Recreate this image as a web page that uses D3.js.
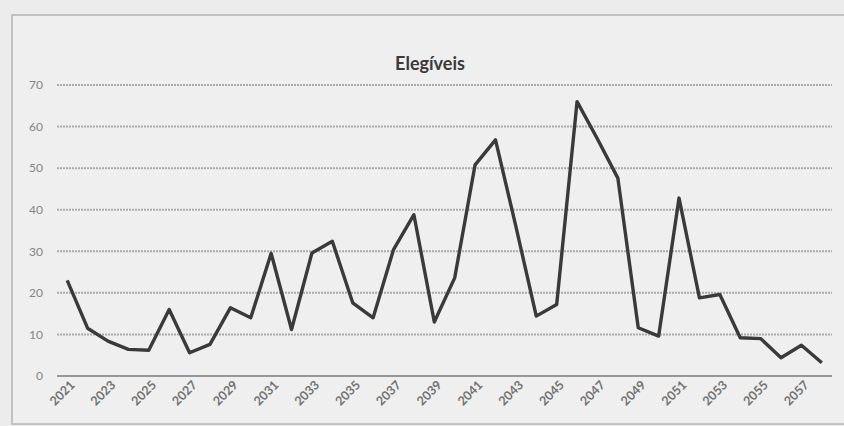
<!DOCTYPE html>
<html>
<head>
<meta charset="utf-8">
<script src="https://cdn.jsdelivr.net/npm/d3@7"></script>
<style>
  html, body { margin: 0; padding: 0; background: #ebebeb; }
  #chart { width: 844px; height: 426px; }
</style>
</head>
<body>
<div id="chart"></div>
<script>
const years = [2021, 2022, 2023, 2024, 2025, 2026, 2027, 2028, 2029, 2030,
  2031, 2032, 2033, 2034, 2035, 2036, 2037, 2038, 2039, 2040,
  2041, 2042, 2043, 2044, 2045, 2046, 2047, 2048, 2049, 2050,
  2051, 2052, 2053, 2054, 2055, 2056, 2057, 2058];
const elegiveis = [23, 11.5, 8.4, 6.4, 6.2, 16, 5.6, 7.6, 16.4, 14,
  29.5, 11.2, 29.6, 32.4, 17.6, 14, 30.4, 38.8, 13, 23.6,
  50.8, 56.8, 36, 14.4, 17.2, 66, 57, 47.6, 11.6, 9.6,
  42.8, 18.8, 19.6, 9.2, 9, 4.4, 7.4, 3.2];
const yTicks = [0, 10, 20, 30, 40, 50, 60, 70];
const xLabels = years.filter((d, i) => i % 2 === 0);
const title = "Elegíveis";

function drawChart() {
  const W = 844, H = 426;
  const margin = {top: 85, right: 12, bottom: 50, left: 57},
    width = W - margin.left - margin.right,
    height = H - margin.top - margin.bottom;

  const svg = d3.select('#chart')
    .append('svg')
    .attr('width', W)
    .attr('height', H);

  // scanned page background + chart frame
  svg.append('rect')
    .attr('width', W).attr('height', H)
    .style('fill', '#ececec');
  svg.append('rect')
    .attr('x', 12).attr('y', 15)
    .attr('width', W).attr('height', H - 17)
    .style('fill', '#efefef')
    .style('stroke', '#b4b4b4')
    .style('stroke-width', 1.5);

  svg.append('text')
    .attr('x', 430)
    .attr('y', 70)
    .attr('text-anchor', 'middle')
    .style('font-family', 'Lato, "Open Sans", sans-serif')
    .style('font-weight', 'bold')
    .style('font-size', '18px')
    .style('fill', '#3a3a3a')
    .text(title);

  const g = svg.append('g')
    .attr('transform', `translate(${margin.left}, ${margin.top})`);

  const xScale = d3.scalePoint()
    .domain(years)
    .range([0, width])
    .padding(0.5);

  const yScale = d3.scaleLinear()
    .domain([0, 70])
    .range([height, 0]);

  // gridlines
  g.append('g')
    .selectAll('line')
    .data(yTicks)
    .join('line')
    .attr('x1', 0)
    .attr('x2', width)
    .attr('y1', d => yScale(d))
    .attr('y2', d => yScale(d))
    .style('stroke', d => d === 0 ? '#979797' : '#aaaaaa')
    .style('stroke-width', 2)
    .style('stroke-dasharray', d => d === 0 ? null : '2 1');

  // y axis labels
  const yAxis = g.append('g')
    .call(d3.axisLeft(yScale).tickValues(yTicks).tickSize(0).tickPadding(14));
  yAxis.select('.domain').remove();
  yAxis.selectAll('text')
    .style('font-family', 'Lato, "Open Sans", sans-serif')
    .style('font-size', '12px')
    .style('fill', '#858585');

  // x axis labels
  const xAxis = g.append('g')
    .attr('transform', `translate(0, ${height})`)
    .call(d3.axisBottom(xScale).tickValues(xLabels).tickSize(0).tickPadding(7));
  xAxis.select('.domain').remove();
  xAxis.selectAll('text')
    .attr('transform', 'translate(-2,0)rotate(-45)')
    .style('text-anchor', 'end')
    .attr('dy', '0.55em')
    .style('font-family', 'Lato, "Open Sans", sans-serif')
    .style('font-weight', 'bold')
    .style('font-size', '12.5px')
    .style('fill', '#727272');

  const line = d3.line()
    .x((d, i) => xScale(years[i]))
    .y(d => yScale(d));

  g.append('path')
    .datum(elegiveis)
    .attr('d', line)
    .style('fill', 'none')
    .style('stroke', '#3a3a3a')
    .style('stroke-width', 3.4)
    .style('stroke-linejoin', 'round');
}

drawChart();
</script>
</body>
</html>
